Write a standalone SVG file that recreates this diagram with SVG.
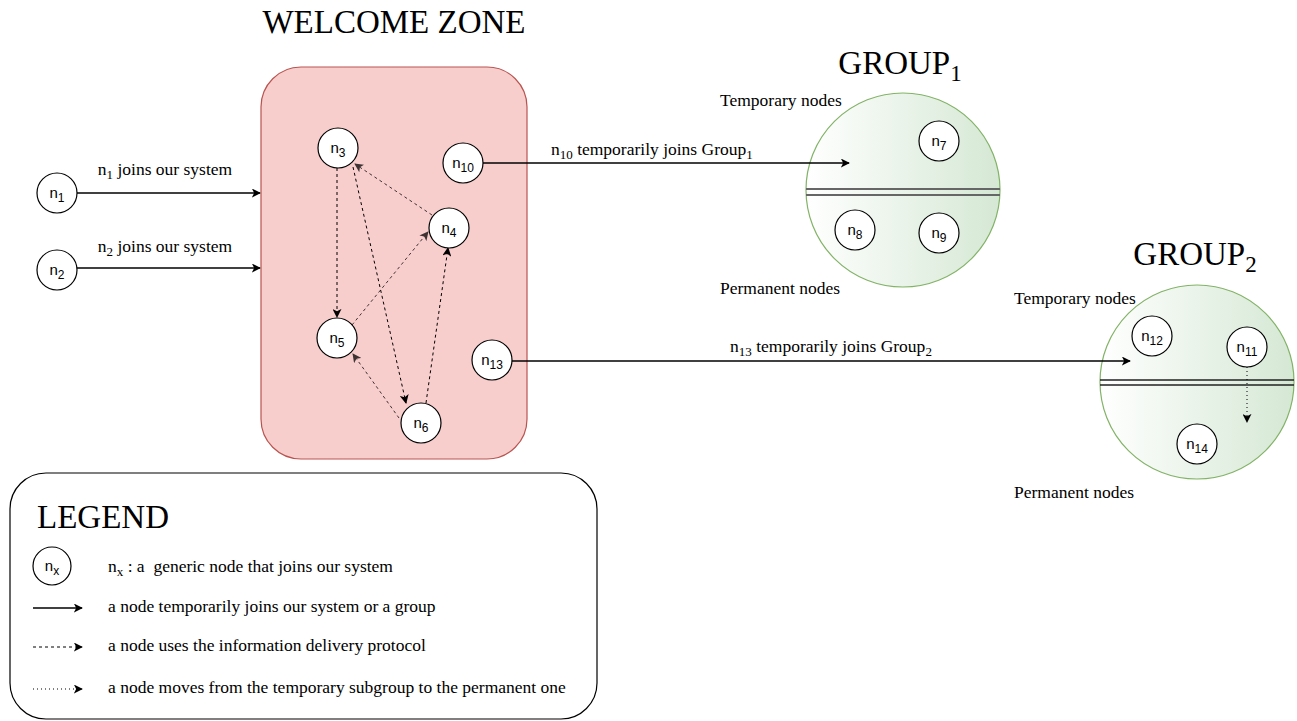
<svg xmlns="http://www.w3.org/2000/svg" width="1297" height="721" viewBox="0 0 1297 721">
<style>
.node{fill:#fff;stroke:#000;stroke-width:1.2}
.nl{font-family:"Liberation Sans",Arial,sans-serif;font-size:15px;fill:#000;text-anchor:middle}
.sub{font-size:12px}
.lbl{font-family:"Liberation Serif","Times New Roman",serif;font-size:17.5px;fill:#000}
.ls{font-size:13px}
.title{font-family:"Liberation Serif","Times New Roman",serif;font-size:33px;fill:#000}
.tsub{font-size:23px}
.solid{stroke:#000;stroke-width:1.3;fill:none;marker-end:url(#ah)}
.dash{stroke:#000;stroke-width:1;fill:none;stroke-dasharray:3 3;marker-end:url(#ah)}
.dashl{stroke:#000;stroke-width:1;fill:none;stroke-dasharray:3 3;marker-end:url(#ah);opacity:0.75}
.dot{stroke:#000;stroke-width:1;fill:none;stroke-dasharray:1 3;marker-end:url(#ah)}
</style>
<defs>
<marker id="ah" viewBox="0 0 10 10" refX="9" refY="5" markerWidth="9" markerHeight="9" markerUnits="userSpaceOnUse" orient="auto">
<path d="M0,0 L10,5 L0,10 L2.5,5 Z" fill="#000"/>
</marker>
<linearGradient id="gg" x1="0" y1="0" x2="1" y2="0">
<stop offset="0" stop-color="#ffffff"/>
<stop offset="1" stop-color="#d5e8d4"/>
</linearGradient>
</defs>
<rect width="1297" height="721" fill="#fff"/>

<g id="welcome-zone">
<rect x="261" y="67" width="266" height="392" rx="40" ry="40" fill="#f8cecc" stroke="#b85450" stroke-width="1.2"/>
<text class="title" x="394" y="33" text-anchor="middle" font-size="34px">WELCOME ZONE</text>
</g>

<g id="group1">
<circle cx="903" cy="190" r="97" fill="url(#gg)" stroke="#82b366" stroke-width="1.2"/>
<line x1="806" y1="189" x2="1000" y2="189" stroke="#666" stroke-width="2"/>
<line x1="806" y1="195" x2="1000" y2="195" stroke="#666" stroke-width="2"/>
<text class="title" x="900" y="74" text-anchor="middle">GROUP<tspan class="tsub" dy="7">1</tspan></text>
<text class="lbl" x="720" y="106">Temporary nodes</text>
<text class="lbl" x="720" y="294">Permanent nodes</text>
</g>

<g id="group2">
<circle cx="1197" cy="382" r="97" fill="url(#gg)" stroke="#82b366" stroke-width="1.2"/>
<line x1="1100" y1="380" x2="1294" y2="380" stroke="#222" stroke-width="1.5"/>
<line x1="1100" y1="385" x2="1294" y2="385" stroke="#222" stroke-width="1.5"/>
<text class="title" x="1195" y="265" text-anchor="middle">GROUP<tspan class="tsub" dy="7">2</tspan></text>
<text class="lbl" x="1014" y="304">Temporary nodes</text>
<text class="lbl" x="1014" y="498">Permanent nodes</text>
</g>

<g id="connectors">
<line class="solid" x1="77" y1="193" x2="260" y2="193"/>
<text class="lbl" x="165" y="175" text-anchor="middle">n<tspan class="ls" dy="4">1</tspan><tspan dy="-4"> joins our system</tspan></text>
<line class="solid" x1="77" y1="268" x2="260" y2="268"/>
<text class="lbl" x="165" y="252" text-anchor="middle">n<tspan class="ls" dy="4">2</tspan><tspan dy="-4"> joins our system</tspan></text>
<line class="solid" x1="483" y1="163" x2="849" y2="163"/>
<text class="lbl" x="551" y="155">n<tspan class="ls" dy="4">10</tspan><tspan dy="-4"> temporarily joins Group</tspan><tspan class="ls" dy="4">1</tspan></text>
<line class="solid" x1="512" y1="361" x2="1130" y2="361"/>
<text class="lbl" x="831" y="352" text-anchor="middle">n<tspan class="ls" dy="4">13</tspan><tspan dy="-4"> temporarily joins Group</tspan><tspan class="ls" dy="4">2</tspan></text>

<line class="dash" x1="337" y1="168" x2="337" y2="317"/>
<line class="dashl" x1="432" y1="215" x2="355" y2="164"/>
<line class="dashl" x1="352" y1="325" x2="428" y2="232"/>
<line class="dash" x1="353" y1="167" x2="406" y2="403"/>
<line class="dash" x1="426" y1="403" x2="448" y2="248"/>
<line class="dashl" x1="399" y1="418" x2="353" y2="354"/>

<line class="dot" x1="1247" y1="367" x2="1247" y2="422"/>
</g>

<g id="n1"><circle class="node" cx="57" cy="193" r="20"/><text class="nl" x="57" y="198">n<tspan class="sub" dy="4">1</tspan></text></g>
<g id="n2"><circle class="node" cx="57" cy="270" r="20"/><text class="nl" x="57" y="275">n<tspan class="sub" dy="4">2</tspan></text></g>
<g id="n3"><circle class="node" cx="338" cy="148" r="20"/><text class="nl" x="338" y="153">n<tspan class="sub" dy="4">3</tspan></text></g>
<g id="n4"><circle class="node" cx="449" cy="228" r="20"/><text class="nl" x="449" y="233">n<tspan class="sub" dy="4">4</tspan></text></g>
<g id="n5"><circle class="node" cx="337" cy="338" r="20"/><text class="nl" x="337" y="343">n<tspan class="sub" dy="4">5</tspan></text></g>
<g id="n6"><circle class="node" cx="421" cy="423" r="20"/><text class="nl" x="421" y="428">n<tspan class="sub" dy="4">6</tspan></text></g>
<g id="n10"><circle class="node" cx="463" cy="163" r="20"/><text class="nl" x="463" y="168">n<tspan class="sub" dy="4">10</tspan></text></g>
<g id="n13"><circle class="node" cx="492" cy="360" r="20"/><text class="nl" x="492" y="365">n<tspan class="sub" dy="4">13</tspan></text></g>
<g id="n7"><circle class="node" cx="939" cy="141" r="20"/><text class="nl" x="939" y="146">n<tspan class="sub" dy="4">7</tspan></text></g>
<g id="n8"><circle class="node" cx="855" cy="230" r="20"/><text class="nl" x="855" y="235">n<tspan class="sub" dy="4">8</tspan></text></g>
<g id="n9"><circle class="node" cx="939" cy="233" r="20"/><text class="nl" x="939" y="238">n<tspan class="sub" dy="4">9</tspan></text></g>
<g id="n12"><circle class="node" cx="1152" cy="336" r="20"/><text class="nl" x="1152" y="341">n<tspan class="sub" dy="4">12</tspan></text></g>
<g id="n11"><circle class="node" cx="1247" cy="347" r="20"/><text class="nl" x="1247" y="352">n<tspan class="sub" dy="4">11</tspan></text></g>
<g id="n14"><circle class="node" cx="1197" cy="444" r="20"/><text class="nl" x="1197" y="449">n<tspan class="sub" dy="4">14</tspan></text></g>

<g id="legend">
<rect x="10" y="473" width="587" height="246" rx="36" ry="36" fill="#fff" stroke="#000" stroke-width="1.2"/>
<text class="title" x="37" y="528">LEGEND</text>
<circle class="node" cx="52" cy="566" r="19"/>
<text class="nl" x="52" y="571">n<tspan class="sub" dy="4">x</tspan></text>
<text class="lbl" x="108" y="572">n<tspan class="ls" dy="4">x</tspan><tspan dy="-4"> : a &#160;generic node that joins our system</tspan></text>
<line class="solid" x1="33" y1="608" x2="82" y2="608"/>
<text class="lbl" x="108" y="612">a node temporarily joins our system or a group</text>
<line class="dash" x1="33" y1="647" x2="82" y2="647"/>
<text class="lbl" x="108" y="651">a node uses the information delivery protocol</text>
<line class="dot" x1="33" y1="689" x2="82" y2="689"/>
<text class="lbl" x="108" y="693">a node moves from the temporary subgroup to the permanent one</text>
</g>
</svg>
